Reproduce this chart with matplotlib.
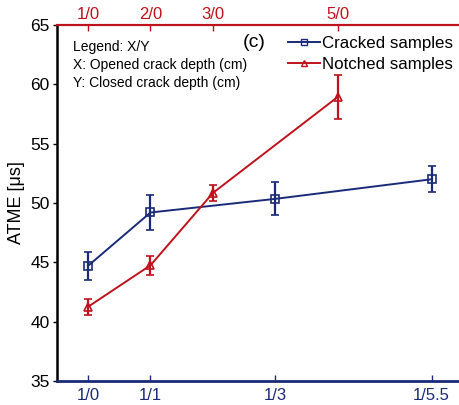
import matplotlib
matplotlib.use("Agg")
import matplotlib.pyplot as plt
from matplotlib.lines import Line2D

plt.rcParams['font.family'] = ['Liberation Sans', 'DejaVu Sans']

# Data
bottom_labels = ["1/0", "1/1", "1/3", "1/5.5"]
bottom_pos = [1, 2, 4, 6.5]
top_labels = ["1/0", "2/0", "3/0", "5/0"]
top_pos = [1, 2, 3, 5]

cracked_x = [1, 2, 4, 6.5]
cracked_y = [44.7, 49.2, 50.35, 52.0]
cracked_err = [1.2, 1.45, 1.4, 1.1]

notched_x = [1, 2, 3, 5]
notched_y = [41.25, 44.75, 50.85, 58.95]
notched_err = [0.7, 0.8, 0.7, 1.85]

note_lines = ["Legend: X/Y", "X: Opened crack depth (cm)", "Y: Closed crack depth (cm)"]

blue = "#1a2a78"
red = "#c0121c"

W, H = 459, 405
fig = plt.figure(figsize=(W/100, H/100), dpi=100)
left_px, right_px = 56.75, 462.9
top_px, bot_px = 25, 381
ax = fig.add_axes([left_px/W, 1 - bot_px/H, (right_px-left_px)/W, (bot_px-top_px)/H])

ax.errorbar(cracked_x, cracked_y, yerr=cracked_err, color=blue, marker='s', ms=6,
            mfc='none', mec=blue, mew=1.2, lw=1.4, capsize=3, elinewidth=1.6, capthick=1.4)
ax.errorbar(notched_x, notched_y, yerr=notched_err, color=red, marker='^', ms=6,
            mfc='none', mec=red, mew=1.2, lw=1.4, capsize=3, elinewidth=1.6, capthick=1.4)

ax.set_xlim(0.5, 7)
ax.set_ylim(35, 65)
ax.set_yticks([35, 40, 45, 50, 55, 60, 65])
ax.set_xticks(bottom_pos)
ax.set_xticklabels(bottom_labels, color=blue, fontsize=12)
ax.tick_params(axis='x', direction='in', length=4, color=blue, width=1, pad=5)
ax.tick_params(axis='y', direction='out', length=3, labelsize=12.5, width=1, pad=2)
ax.set_ylabel("ATME [μs]", fontsize=13, labelpad=4)

ax.spines['bottom'].set_color(blue)
ax.spines['bottom'].set_linewidth(2)
ax.spines['left'].set_color('black')
ax.spines['left'].set_linewidth(1.8)
ax.spines['right'].set_visible(False)
ax.spines['top'].set_color(red)
ax.spines['top'].set_linewidth(1.5)

ax2 = ax.twiny()
ax2.set_xlim(ax.get_xlim())
ax2.set_xticks(top_pos)
ax2.set_xticklabels(top_labels, color=red, fontsize=12)
ax2.tick_params(axis='x', direction='in', length=4, color=red, width=1, pad=2)
for s in ['left', 'right', 'bottom']:
    ax2.spines[s].set_visible(False)
ax2.spines['top'].set_color(red)
ax2.spines['top'].set_linewidth(1.5)

for line, yf in zip(note_lines, [0.938, 0.889, 0.838]):
    ax.text(0.04, yf, line, transform=ax.transAxes, fontsize=10, va='center', ha='left')
ax.text(0.487, 0.952, "(c)", transform=ax.transAxes, fontsize=14, va='center', ha='center')

handles = [Line2D([], [], color=blue, lw=1.4, marker='s', ms=4, mfc='none', mec=blue, mew=1.0),
           Line2D([], [], color=red, lw=1.4, marker='^', ms=4, mfc='none', mec=red, mew=1.0)]
leg = ax.legend(handles, ["Cracked samples", "Notched samples"],
                loc='upper left', bbox_to_anchor=(0.543, 1.0), frameon=False, fontsize=12.2,
                handlelength=1.9, handletextpad=0.1, labelspacing=0.35, borderaxespad=0.25)

fig.savefig("out.png", dpi=100)
